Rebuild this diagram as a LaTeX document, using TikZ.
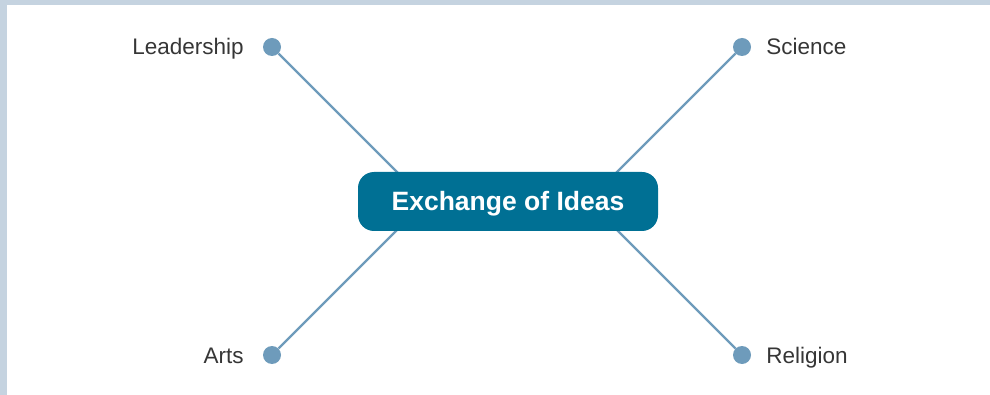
\documentclass[tikz,border=0pt]{standalone}
\usepackage{fontspec}
\setmainfont{Liberation Sans}
\usetikzlibrary{positioning}
\definecolor{framecol}{HTML}{C5D3E0}
\definecolor{dotcol}{HTML}{6E9BBB}
\definecolor{hubcol}{HTML}{007094}
\definecolor{textcol}{HTML}{363636}
\begin{document}
\begin{tikzpicture}[x=1pt,y=-1pt,
    dot/.style={circle,fill=dotcol,inner sep=0pt,minimum size=18pt},
    lbl/.style={inner sep=0pt,text height=16pt,text depth=0pt,
      font=\fontsize{22.5}{26}\selectfont,text=textcol},
    hub/.style={rounded corners=16pt,fill=hubcol,text=white,
      minimum width=300pt,minimum height=59pt,
      text height=19pt,text depth=0pt,
      font=\fontsize{26.5}{30}\selectfont\bfseries}]
  \useasboundingbox (0,0) rectangle (990,395);
  \fill[framecol] (0,0) rectangle (990,5);
  \fill[framecol] (0,0) rectangle (7,395);
  \coordinate (hl) at (426,201);
  \coordinate (hr) at (588,201);
  \draw
    (272,47) node[dot] (lead){}
    (742,47) node[dot] (sci){}
    (272,355) node[dot] (arts){}
    (742,355) node[dot] (rel){};
  \begin{scope}[dotcol,line width=2.4pt]
    \draw (lead) to (hl);
    \draw (arts) to (hl);
    \draw (sci) to (hr);
    \draw (rel) to (hr);
  \end{scope}
  \node[hub] (ideas) at (508,201.5) {Exchange of Ideas};
  \node[lbl,left=19pt of lead] (leadtext) {Leadership};
  \node[lbl,left=19pt of arts] (artstext) {Arts};
  \node[lbl,right=15pt of sci] (scitext) {Science};
  \node[lbl,right=15pt of rel] (reltext) {Religion};
\end{tikzpicture}
\end{document}
